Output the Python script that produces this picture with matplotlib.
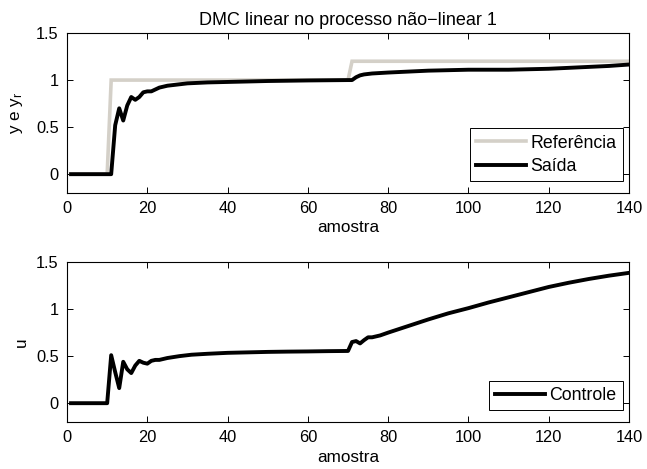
import matplotlib
matplotlib.use("Agg")
import matplotlib.pyplot as plt
from matplotlib.ticker import FixedLocator, FuncFormatter

plt.rcParams['font.family'] = ['Liberation Sans', 'DejaVu Sans']
plt.rcParams['mathtext.fontset'] = 'custom'
plt.rcParams['mathtext.rm'] = 'Liberation Sans'
plt.rcParams['mathtext.it'] = 'Liberation Sans'

# Reference signal (setpoint)
k_ref = [1, 10, 11, 70, 71, 140]
ref = [0.0, 0.0, 1.0, 1.0, 1.2, 1.2]

# Process output
k_out = [1, 11, 12, 13, 14, 15, 16, 17, 18, 19, 20, 21, 22, 23, 24, 25, 27, 30,
         35, 40, 45, 50, 55, 60, 65, 70, 71, 72, 73, 74, 76, 78, 80, 85, 90, 95,
         100, 105, 110, 115, 120, 125, 130, 135, 140]
saida = [0.0, 0.0, 0.52, 0.70, 0.57, 0.73, 0.82, 0.79, 0.82, 0.87, 0.88, 0.88,
         0.90, 0.92, 0.93, 0.94, 0.95, 0.965, 0.975, 0.98, 0.985, 0.99, 0.993,
         0.996, 0.998, 1.0, 1.0, 1.03, 1.05, 1.06, 1.07, 1.075, 1.08, 1.09, 1.10,
         1.105, 1.11, 1.11, 1.11, 1.115, 1.12, 1.13, 1.14, 1.15, 1.165]

# Control action
k_u = [1, 10, 11, 12, 13, 14, 15, 16, 17, 18, 19, 20, 21, 22, 23, 25, 28, 31,
       35, 40, 45, 50, 55, 60, 65, 70, 71, 72, 73, 74, 75, 76, 78, 80, 85, 90,
       95, 100, 105, 110, 115, 120, 125, 130, 135, 140]
controle = [0.0, 0.0, 0.51, 0.33, 0.16, 0.44, 0.36, 0.32, 0.40, 0.45, 0.43, 0.42,
            0.45, 0.46, 0.46, 0.48, 0.50, 0.515, 0.525, 0.535, 0.54, 0.545, 0.548,
            0.55, 0.553, 0.555, 0.65, 0.66, 0.635, 0.67, 0.70, 0.70, 0.72, 0.75,
            0.82, 0.89, 0.955, 1.01, 1.07, 1.125, 1.18, 1.235, 1.28, 1.32, 1.355,
            1.385]

x_ticks = [0, 20, 40, 60, 80, 100, 120, 140]
y_ticks = [0, 0.5, 1, 1.5]

fig = plt.figure(figsize=(6.47, 4.69), dpi=100)
ax1 = fig.add_axes([0.1036, 0.5885, 0.8686, 0.3411])
ax2 = fig.add_axes([0.1036, 0.1002, 0.8686, 0.3411])

grey = '#d4d0c8'
ax1.plot(k_ref, ref, color=grey, lw=2.6, label='Referência', solid_joinstyle='miter')
ax1.plot(k_out, saida, color='black', lw=2.8, label='Saída')
ax2.plot(k_u, controle, color='black', lw=2.8, label='Controle')

fmt = FuncFormatter(lambda v, p: ('%g' % v))
for ax in (ax1, ax2):
    ax.set_xlim(0, 140)
    ax.set_ylim(-0.2, 1.5)
    ax.xaxis.set_major_locator(FixedLocator(x_ticks))
    ax.yaxis.set_major_locator(FixedLocator(y_ticks))
    ax.yaxis.set_major_formatter(fmt)
    ax.tick_params(direction='in', length=4, width=0.7, top=True, right=True,
                   labelsize=11.8, pad=6)
    for s in ax.spines.values():
        s.set_linewidth(0.8)
    ax.set_xlabel('amostra', fontsize=12.3, labelpad=3)

ax1.set_ylabel(r'y e y$_\mathrm{r}$', fontsize=12.3, labelpad=8)
ax2.set_ylabel('u', fontsize=12.3, labelpad=5)
ax1.set_title('DMC linear no processo não−linear 1', fontsize=13, pad=6)

leg_kw = dict(loc='lower right', bbox_to_anchor=(0.989, 0.075), borderaxespad=0,
              fancybox=False, framealpha=1, edgecolor='black', fontsize=12.8,
              handlelength=2.8, handletextpad=0.25, labelspacing=0.35,
              borderpad=0.35)
l1 = ax1.legend(**leg_kw)
l2 = ax2.legend(**leg_kw)
for l in (l1, l2):
    l.get_frame().set_linewidth(0.7)

fig.savefig('out.png', dpi=100)
